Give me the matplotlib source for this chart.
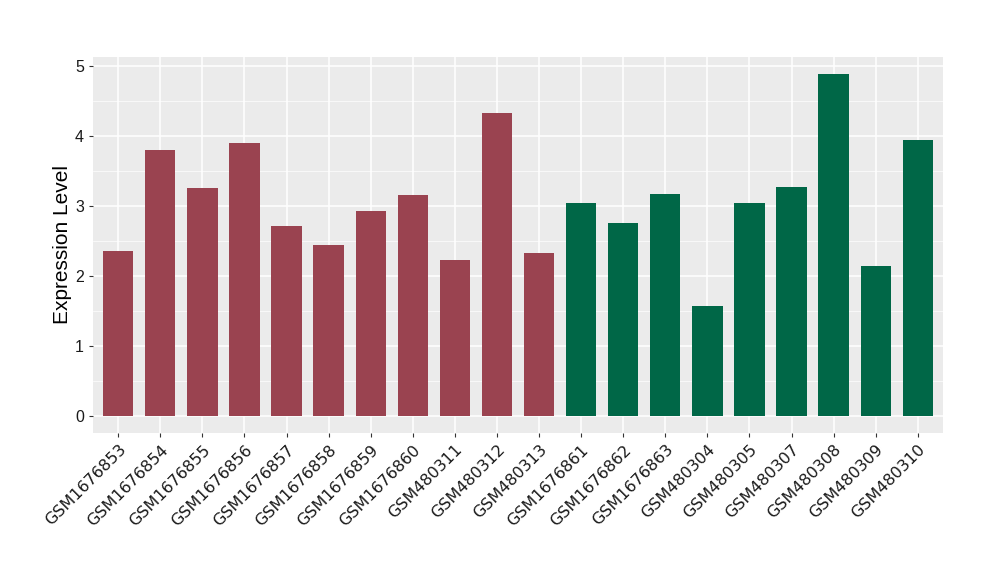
import matplotlib
matplotlib.use("Agg")
import matplotlib.pyplot as plt
import numpy as np

samples = ["GSM1676853", "GSM1676854", "GSM1676855", "GSM1676856", "GSM1676857",
           "GSM1676858", "GSM1676859", "GSM1676860", "GSM480311", "GSM480312",
           "GSM480313", "GSM1676861", "GSM1676862", "GSM1676863", "GSM480304",
           "GSM480305", "GSM480307", "GSM480308", "GSM480309", "GSM480310"]
values = [2.35, 3.80, 3.26, 3.90, 2.71, 2.44, 2.92, 3.15, 2.22, 4.32,
          2.32, 3.04, 2.75, 3.17, 1.57, 3.04, 3.27, 4.88, 2.14, 3.94]
groups = ["A"] * 11 + ["B"] * 9
group_colors = {"A": "#9A4350", "B": "#006747"}
yticks = [0, 1, 2, 3, 4, 5]

plt.rcParams['font.family'] = ['Liberation Sans', 'DejaVu Sans']

fig = plt.figure(figsize=(10, 5.8), dpi=100)
ax = fig.add_axes([0.093, 1 - 433 / 580, 0.850, (433 - 57) / 580])
ax.set_facecolor("#EBEBEB")

x = np.arange(1, len(samples) + 1)
colors = [group_colors[g] for g in groups]
ax.bar(x, values, width=0.72, color=colors, zorder=3)

ymax = max(values)
ax.set_ylim(-0.05 * ymax, ymax * 1.05)
ax.set_xlim(0.4, len(samples) + 0.6)
ax.set_yticks(yticks)
ax.set_yticks(np.arange(0.5, 5.0, 1.0), minor=True)
ax.set_xticks(x)
ax.set_xticklabels(samples, rotation=45, ha="right", rotation_mode="anchor",
                   fontsize=11.5, family=["DejaVu Sans"])
ax.tick_params(axis="y", labelsize=11.5)
ax.tick_params(axis="both", which="major", color="#333333", length=3, width=0.8, colors="#1a1a1a")
ax.tick_params(axis="both", which="minor", length=0)
ax.grid(which="major", color="white", linewidth=1.1, zorder=0)
ax.grid(which="minor", axis="y", color="white", linewidth=0.5, zorder=0)
for s in ax.spines.values():
    s.set_visible(False)
ax.set_ylabel("Expression Level", fontsize=15, labelpad=2)

fig.savefig("out.png", dpi=100)
